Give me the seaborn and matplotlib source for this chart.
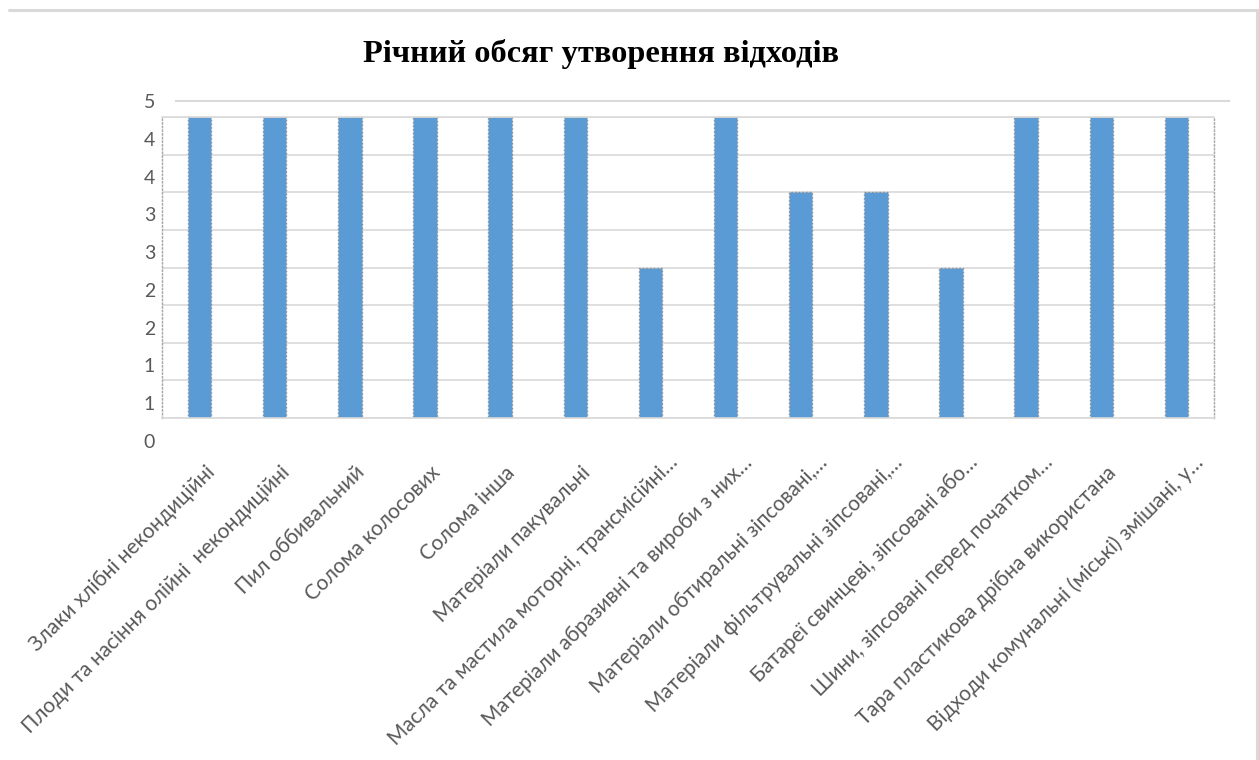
import numpy as np
import matplotlib
matplotlib.use("Agg")
import matplotlib.pyplot as plt
import matplotlib.transforms as mtransforms
from matplotlib.lines import Line2D
import seaborn as sns

# ---- data ----
title = "Річний обсяг утворення відходів"
categories = [
    "Злаки хлібні некондиційні",
    "Плоди та насіння олійні  некондиційні",
    "Пил оббивальний",
    "Солома колосових",
    "Солома інша",
    "Матеріали пакувальні",
    "Масла та мастила моторні, трансмісійні…",
    "Матеріали абразивні та вироби з них…",
    "Матеріали обтиральні зіпсовані,…",
    "Матеріали фільтрувальні зіпсовані,…",
    "Батареї свинцеві, зіпсовані або…",
    "Шини, зіпсовані перед початком…",
    "Тара пластикова дрібна використана",
    "Відходи комунальні (міські) змішані, у…",
]
values = [4, 4, 4, 4, 4, 4, 2, 4, 3, 3, 2, 4, 4, 4]
outer_axis_max = 5
outer_tick_count = 10
inner_axis_max = 4
inner_grid_step = 0.5

sns.set_theme(style="white")
plt.rcParams["font.family"] = ["Lato", "DejaVu Sans"]

W, H = 1259, 760
fig = plt.figure(figsize=(W / 100, H / 100), dpi=100)
fig.patch.set_facecolor("white")

def rect(l, t, r, b):
    return [l / W, 1 - b / H, (r - l) / W, (b - t) / H]

text_color = "#595959"
grid_color = "#D9D9D9"

# outer axis: value labels + top gridline
ax_out = fig.add_axes(rect(176, 101, 1229, 441))
ax_out.set_ylim(0, outer_axis_max)
ax_out.set_xlim(0, 1)
yt = np.linspace(0, outer_axis_max, outer_tick_count)
ax_out.set_yticks(yt)
ax_out.set_yticklabels([f"{v:.0f}" for v in yt], color=text_color, fontsize=14)
ax_out.set_xticks([])
ax_out.tick_params(axis="y", length=0, pad=15)
for s in ["left", "right", "bottom"]:
    ax_out.spines[s].set_visible(False)
ax_out.spines["top"].set_color(grid_color)
ax_out.spines["top"].set_linewidth(1.5)
ax_out.set_facecolor("none")

# inner plot area with bars
ax_in = fig.add_axes(rect(162, 117, 1214, 418))
ax_in.set_facecolor("none")
sns.barplot(x=categories, y=values, ax=ax_in, color="#5B9BD5", width=0.31,
            edgecolor="#8C8C8C", linestyle=":", linewidth=1.0, saturation=1)
ax_in.set_ylim(0, inner_axis_max)
ax_in.set_yticks(np.arange(0, inner_axis_max + 1e-9, inner_grid_step))
ax_in.set_yticklabels([])
ax_in.yaxis.grid(True, color=grid_color, linewidth=1.2)
ax_in.set_axisbelow(True)
ax_in.tick_params(axis="y", length=0)
ax_in.tick_params(axis="x", length=0, pad=37)
ax_in.set_xlabel("")
ax_in.set_ylabel("")
ax_in.set_xticks(range(len(categories)))
ax_in.set_xticklabels(categories, rotation=45, ha="right", va="center",
                      rotation_mode="anchor", color=text_color, fontsize=15)
for lab in ax_in.get_xticklabels():
    dx, dy = 12, 0
    if lab.get_text().endswith("…"):
        dx, dy = dx + 12, dy + 10
    off = mtransforms.ScaledTranslation(dx / 100, dy / 100, fig.dpi_scale_trans)
    lab.set_transform(lab.get_transform() + off)
for s in ["left", "right"]:
    ax_in.spines[s].set_linestyle(":")
    ax_in.spines[s].set_color("#A6A6A6")
    ax_in.spines[s].set_linewidth(1.0)
for s in ["top", "bottom"]:
    ax_in.spines[s].set_color(grid_color)
    ax_in.spines[s].set_linewidth(1.2)

# title
fig.text(601 / W, 1 - 62 / H, title, ha="center", va="baseline",
         fontsize=23.3, fontweight="bold", family="Liberation Serif", color="black")

# chart frame (top and right edges visible)
fig.add_artist(Line2D([9 / W, 1257 / W], [1 - 10 / H, 1 - 10 / H],
                      transform=fig.transFigure, color=grid_color, linewidth=2.2))
fig.add_artist(Line2D([1257 / W, 1257 / W], [1 - 10 / H, 0],
                      transform=fig.transFigure, color=grid_color, linewidth=2.2))

fig.savefig("out.png", dpi=100, facecolor="white")
